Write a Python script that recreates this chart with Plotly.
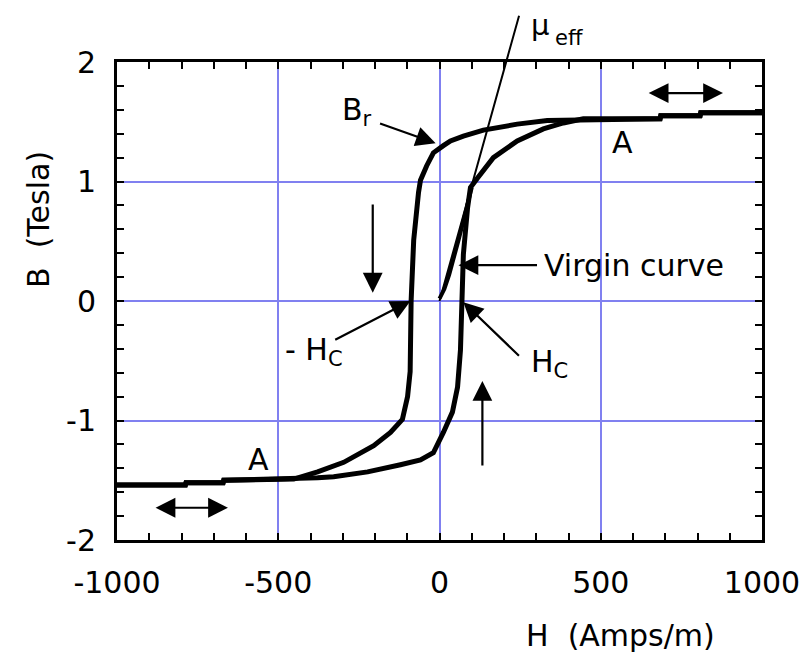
import plotly.graph_objects as go

# Descending branch (from +saturation to -saturation)
H_desc = [1000, 810, 808, 686, 684, 446, 334, 241, 136, 74, 34, 12, 0, -19, -40, -59, -65, -80, -88, -91, -99, -115, -152, -204, -297, -378, -452, -669, -671, -786, -788, -1000]
B_desc = [1.575, 1.575, 1.55, 1.55, 1.525, 1.52, 1.51, 1.48, 1.43, 1.38, 1.34, 1.30, 1.28, 1.24, 1.13, 1.01, 0.91, 0.51, 0.0, -0.59, -0.80, -0.99, -1.10, -1.21, -1.35, -1.43, -1.49, -1.50, -1.52, -1.52, -1.54, -1.54]

# Ascending branch (from -saturation to +saturation)
H_asc = [-1000, -788, -786, -671, -669, -452, -378, -328, -223, -121, -59, -19, 3, 12, 40, 56, 65, 71, 74, 87, 96, 118, 167, 241, 322, 384, 437, 446, 684, 686, 808, 810, 1000]
B_asc = [-1.54, -1.54, -1.52, -1.52, -1.50, -1.49, -1.48, -1.47, -1.43, -1.37, -1.33, -1.27, -1.16, -1.10, -0.93, -0.72, -0.41, 0.0, 0.39, 0.78, 0.95, 1.03, 1.20, 1.34, 1.44, 1.49, 1.52, 1.525, 1.525, 1.55, 1.55, 1.575, 1.575]

# Virgin curve
H_virgin = [0, 15, 30, 45, 60, 75, 90, 100]
B_virgin = [0.02, 0.10, 0.22, 0.36, 0.52, 0.68, 0.84, 0.95]

x_ticks = [-1000, -500, 0, 500, 1000]
x_ticktext = ["-1000", "-500", "0", "500", "1000"]
y_ticks = [-2, -1, 0, 1, 2]
y_ticktext = ["-2", "-1", "0", "1", "2"]

FONT = "DejaVu Sans"
FS = 30
GRID = "rgb(128,128,240)"

fig = go.Figure()
for hx, by in [(H_desc, B_desc), (H_asc, B_asc)]:
    fig.add_trace(go.Scatter(x=hx, y=by, mode="lines",
                             line=dict(color="black", width=5),
                             showlegend=False, hoverinfo="skip"))
fig.add_trace(go.Scatter(x=H_virgin, y=B_virgin, mode="lines",
                         line=dict(color="black", width=4),
                         showlegend=False, hoverinfo="skip"))

axis_common = dict(showline=True, linecolor="black", linewidth=3, mirror="ticks",
                   ticks="inside", ticklen=7, tickwidth=2, tickcolor="black",
                   showgrid=True, gridcolor=GRID, gridwidth=2, zeroline=False,
                   tickfont=dict(family=FONT, size=FS, color="black"))

fig.update_xaxes(range=[-1000, 1000], tickvals=x_ticks, ticktext=x_ticktext,
                 minor=dict(dtick=100, ticks="inside", ticklen=7, tickwidth=2,
                            tickcolor="black", showgrid=False),
                 ticklabelstandoff=14, **axis_common)
fig.update_yaxes(range=[-2, 2], tickvals=y_ticks, ticktext=y_ticktext,
                 minor=dict(dtick=0.2, ticks="inside", ticklen=7, tickwidth=2,
                            tickcolor="black", showgrid=False),
                 ticklabelstandoff=12, **axis_common)

ann = []
def arrow(tip, tail, side="end"):
    ann.append(dict(x=tip[0], y=tip[1], ax=tail[0], ay=tail[1], xref="x", yref="y",
                    axref="x", ayref="y", text="", showarrow=True, arrowhead=2,
                    arrowsize=1.8, arrowwidth=2.2, arrowcolor="black", arrowside=side))

def label(x, y, text, xanchor="center"):
    ann.append(dict(x=x, y=y, xref="x", yref="y", text=text, showarrow=False,
                    xanchor=xanchor, yanchor="middle",
                    font=dict(family=FONT, size=FS, color="black")))

def page_text(x, y, text, size=FS, xanchor="center", angle=0):
    ann.append(dict(x=x, y=y, xref="paper", yref="paper", text=text, showarrow=False,
                    xanchor=xanchor, yanchor="middle", textangle=angle,
                    font=dict(family=FONT, size=size, color="black")))

# mu_eff line
ann.append(dict(x=0, y=0, ax=248, ay=2.4, xref="x", yref="y", axref="x", ayref="y",
                text="", showarrow=True, arrowhead=0, arrowwidth=2, arrowcolor="black"))

arrow((-12, 1.32), (-189, 1.49))
label(-255, 1.59, "B<sub>r</sub>")
arrow((-207, 0.07), (-207, 0.82))
arrow((-90, 0.0), (-328, -0.33))
label(-390, -0.42, "- H<sub>C</sub>")
arrow((74, -0.01), (251, -0.47))
label(340, -0.52, "H<sub>C</sub>")
arrow((133, -0.67), (133, -1.39))
arrow((59, 0.30), (307, 0.30))
label(318, 0.30, "Virgin curve", "left")
arrow((879, 1.74), (644, 1.74), "end+start")
arrow((-656, -1.73), (-885, -1.73), "end+start")
label(567, 1.33, "A")
label(-560, -1.33, "A")

# texts placed in page pixels (converted to paper coords below)
page_text(529, 25, "μ", size=29, xanchor="left")
page_text(553, 38, "eff", size=21, xanchor="left")
page_text(38, 220, "B\u00a0\u00a0(Tesla)", angle=-90)
page_text(620, 635, "H\u00a0\u00a0(Amps/m)")

OFF = 8  # page body margin
W, Hh = 810, 655
L, T = 117 - OFF, 62 - OFF
pw, ph = 645, 478
R = W - L - pw
B = Hh - T - ph
for a in ann:
    if a.get("xref") == "paper":
        a["x"] = (a["x"] - OFF - L) / pw
        a["y"] = (T + ph - (a["y"] - OFF)) / ph

fig.update_layout(width=W, height=Hh, margin=dict(l=L, r=R, t=T, b=B),
                  paper_bgcolor="white", plot_bgcolor="white",
                  annotations=ann, showlegend=False)

fig.write_html("out.html")
